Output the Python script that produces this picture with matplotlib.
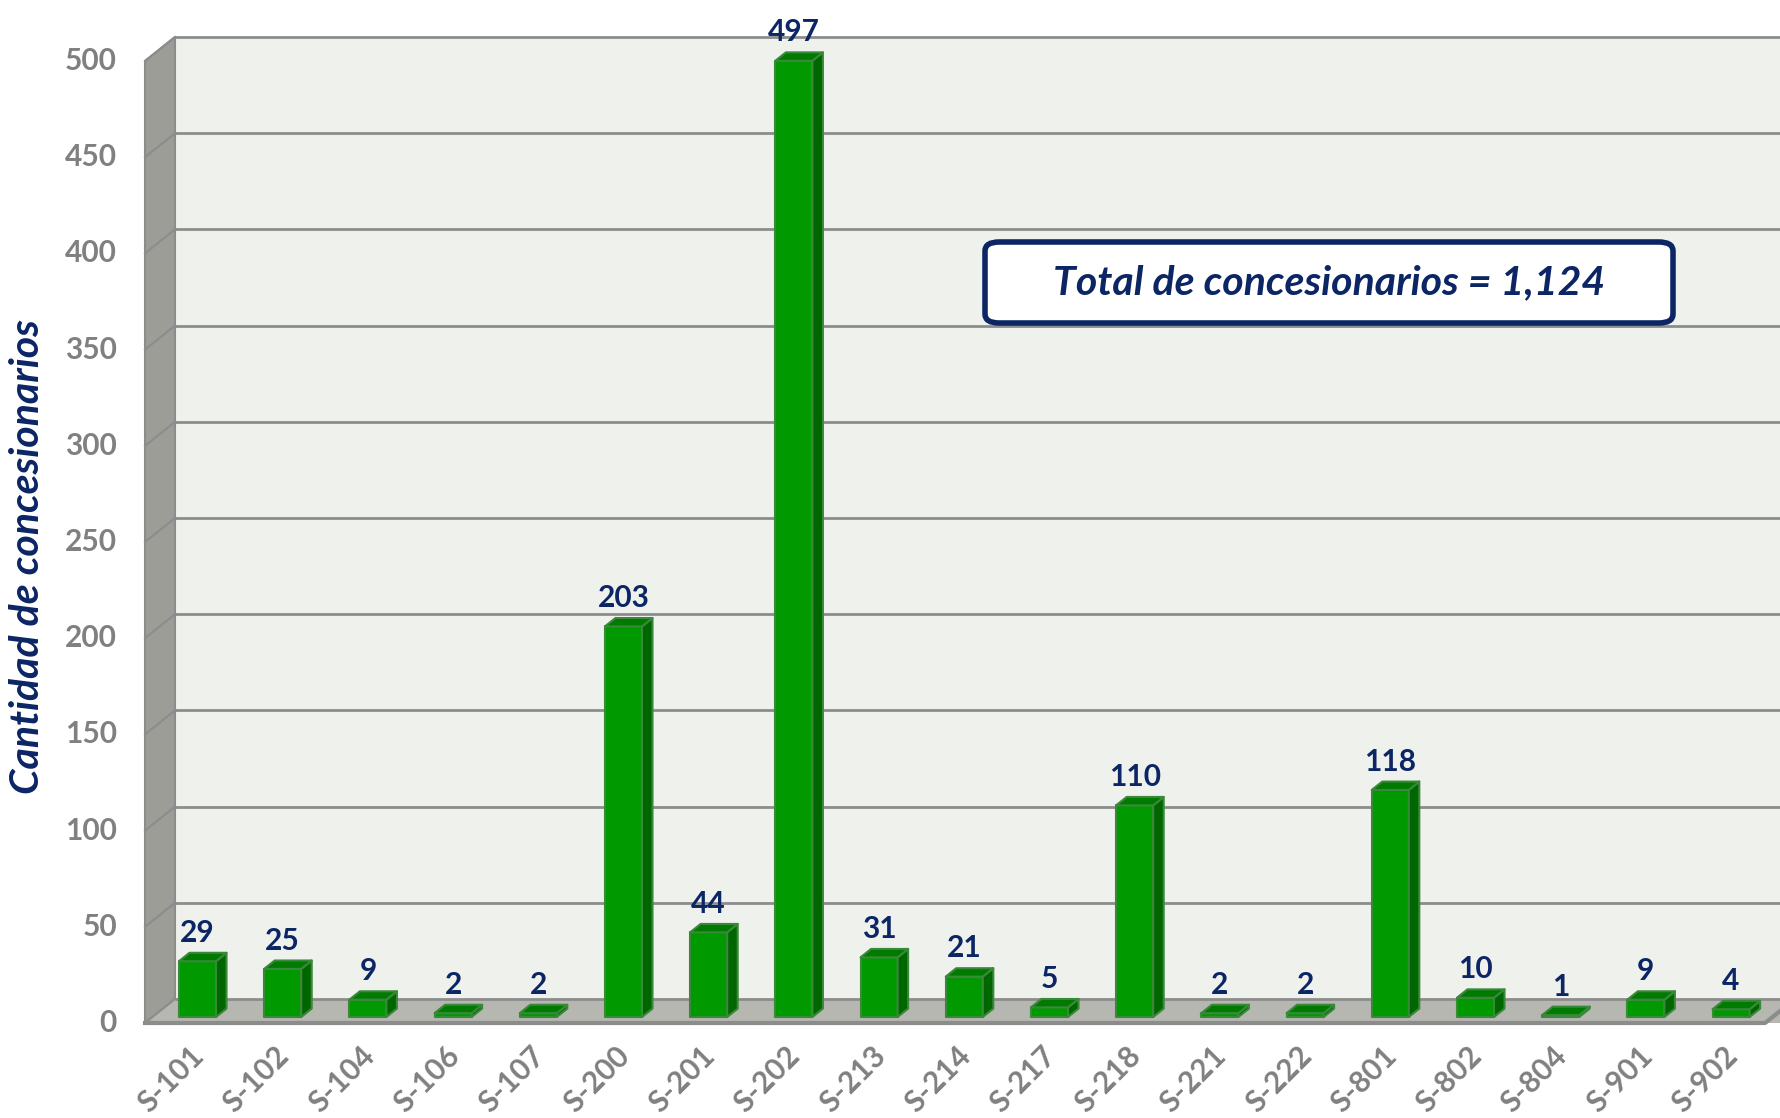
import matplotlib
matplotlib.use('Agg')
import matplotlib.pyplot as plt
from matplotlib.patches import Polygon, FancyBboxPatch
import numpy as np

categories = ['S-101', 'S-102', 'S-104', 'S-106', 'S-107', 'S-200', 'S-201', 'S-202',
              'S-213', 'S-214', 'S-217', 'S-218', 'S-221', 'S-222', 'S-801', 'S-802',
              'S-804', 'S-901', 'S-902']
values = [29, 25, 9, 2, 2, 203, 44, 497, 31, 21, 5, 110, 2, 2, 118, 10, 1, 9, 4]
yticks = [0, 50, 100, 150, 200, 250, 300, 350, 400, 450, 500]
ylabel = 'Cantidad de concesionarios'
total_text = 'Total de concesionarios = 1,124'

navy = '#0b2565'
grey_txt = '#808080'
grid_c = '#8c8c8c'
font = 'Lato'

W, H = 1781, 1118
fig = plt.figure(figsize=(W / 100, H / 100), dpi=100)
# axes = back wall of the 3d box
ax = fig.add_axes([175 / W, (H - 999) / H, 1606 / W, 962 / H])
x0, x1 = -0.528, 18.322
ax.set_xlim(x0, x1)
ax.set_ylim(0, 500)
ax.axis('off')

ppx = 1606 / (x1 - x0)
ppy = 962 / 500
DX = 30 / ppx   # depth offset in data units
DY = 24 / ppy


def P(x, y, d):
    # d = 1 back wall, d = 0 front edge
    return (x - (1 - d) * DX, y - (1 - d) * DY)


def poly(pts, fc, ec='none', lw=0, z=1):
    ax.add_patch(Polygon(pts, closed=True, facecolor=fc, edgecolor=ec,
                         linewidth=lw, zorder=z, clip_on=False, joinstyle='round'))


xr = x1 + 0.5
# back wall
poly([P(x0, 0, 1), P(xr, 0, 1), P(xr, 500, 1), P(x0, 500, 1)], '#eff1ec', z=0)
# left wall
poly([P(x0, 0, 0), P(x0, 0, 1), P(x0, 500, 1), P(x0, 500, 0)], '#9b9d96',
     ec=grid_c, lw=1.5, z=1)
# floor
poly([P(x0, 0, 0), P(xr, 0, 0), P(xr, 0, 1), P(x0, 0, 1)], '#b5b7b0', z=1)

for t in yticks:
    a, b = P(x0, t, 1), P(xr, t, 1)
    ax.plot([a[0], b[0]], [a[1], b[1]], color=grid_c, lw=2, zorder=2, clip_on=False,
            solid_capstyle='butt')
    c = P(x0, t, 0)
    ax.plot([c[0], a[0]], [c[1], a[1]], color=grid_c, lw=1.5, zorder=2, clip_on=False)
    ax.annotate(str(t), c, xytext=(-28, 0), textcoords='offset pixels',
                ha='right', va='center', fontsize=21.5, fontweight='bold',
                color=grey_txt, family=font, annotation_clip=False)

# front edge of floor
a, b = P(x0, 0, 0), P(x1 + DX * 0.47, 0, 0)
ax.plot([a[0], b[0], b[0] + DX], [a[1], b[1], b[1] + DY], color=grid_c, lw=3,
        zorder=2, clip_on=False)

bw = 0.435
d0, d1 = 0.25, 0.6
front_c, side_c, top_c, edge_c = '#009900', '#006600', '#007a00', '#3a883a'
for i, v in enumerate(values):
    l, r = i - bw / 2, i + bw / 2
    poly([P(l, 0, d0), P(r, 0, d0), P(r, v, d0), P(l, v, d0)], front_c, edge_c, 1.5, 3)
    poly([P(r, 0, d0), P(r, 0, d1), P(r, v, d1), P(r, v, d0)], side_c, edge_c, 1.5, 3)
    poly([P(l, v, d0), P(r, v, d0), P(r, v, d1), P(l, v, d1)], top_c, edge_c, 1.5, 3)
    ax.annotate(str(v), (P(i, v, d0)[0], P(i, v, d1)[1]), xytext=(0, 6),
                textcoords='offset pixels', ha='center', va='bottom', fontsize=21.5,
                fontweight='bold', color=navy, family=font, annotation_clip=False)
    ax.annotate(categories[i], P(i, 0, d0), xytext=(-8, -24), textcoords='offset pixels',
                ha='right', va='top', rotation=45, rotation_mode='anchor', fontsize=21.5,
                fontweight='bold', color=grey_txt, family=font, annotation_clip=False)

fig.text(28 / W, 1 - 557 / H, ylabel, rotation=90, ha='center', va='center',
         fontsize=29.5, fontweight='bold', style='italic', color=navy, family=font)

box = FancyBboxPatch((985 / W, 1 - 323 / H), 688 / W, 81 / H,
                     boxstyle='round,pad=0,rounding_size=0.008',
                     transform=fig.transFigure, facecolor='white', edgecolor=navy,
                     linewidth=4, zorder=5)
fig.add_artist(box)
fig.text(1329 / W, 1 - 283 / H, total_text, ha='center', va='center', fontsize=29.5,
         fontweight='bold', style='italic', color=navy, family=font, zorder=6)

fig.savefig('out.png', dpi=100)
